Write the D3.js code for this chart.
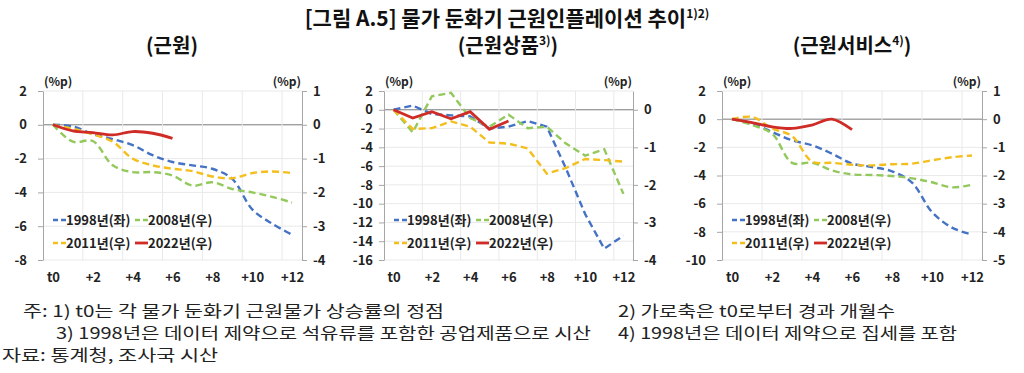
<!DOCTYPE html>
<html>
<head>
<meta charset="utf-8">
<script src="https://cdn.jsdelivr.net/npm/d3@7"></script>
<style>
  body { margin: 0; background: #fff; }
  svg { display: block; font-family: "Noto Sans CJK KR", "Noto Sans", sans-serif; }
</style>
</head>
<body>
<svg id="chart" width="1024" height="373"></svg>
<script>
// months after the peak of core inflation
const months = ["t0", "+1", "+2", "+3", "+4", "+5", "+6", "+7", "+8", "+9", "+10", "+11", "+12"];
const monthLabels = ["t0", "+2", "+4", "+6", "+8", "+10", "+12"];

const seriesNames = ["1998년(좌)", "2008년(우)", "2011년(우)", "2022년(우)"];
const seriesAxis = ["left", "right", "right", "right"];
const seriesColors = ["#4472C4", "#93C95C", "#F4BF1C", "#CF2B27"];

// (근원)
const core1998 = [0, -0.1, -0.55, -0.85, -1.2, -1.8, -2.2, -2.4, -2.6, -3.2, -5.0, -5.85, -6.5];
const core2008 = [0, -0.5, -0.48, -1.2, -1.4, -1.4, -1.5, -1.8, -1.7, -1.9, -2.0, -2.13, -2.3];
const core2011 = [0, -0.12, -0.28, -0.5, -1.0, -1.2, -1.3, -1.37, -1.53, -1.58, -1.43, -1.38, -1.43];
const core2022 = [0, -0.18, -0.23, -0.3, -0.2, -0.25, -0.4];

// (근원상품)
const goods1998 = [0, 0.45, -0.45, -0.6, -0.7, -2.0, -1.8, -1.2, -1.8, -6.25, -11.1, -14.8, -13.4];
const goods2008 = [0, -0.6, 0.36, 0.45, -0.22, -0.45, -0.13, -0.49, -0.45, -0.9, -1.22, -1.05, -2.24];
const goods2011 = [0, -0.51, -0.49, -0.31, -0.45, -0.87, -0.9, -1.03, -1.7, -1.55, -1.31, -1.34, -1.38];
const goods2022 = [0, -0.22, -0.05, -0.24, -0.05, -0.52, -0.3];

// (근원서비스)
const serv1998 = [0, -0.3, -0.9, -1.5, -1.85, -2.45, -3.15, -3.4, -3.7, -4.5, -6.6, -7.7, -8.2];
const serv2008 = [0, -0.21, -0.51, -1.55, -1.55, -1.82, -1.96, -1.98, -2.02, -2.1, -2.24, -2.42, -2.33];
const serv2011 = [0, 0.08, -0.33, -0.6, -1.5, -1.55, -1.62, -1.64, -1.6, -1.58, -1.46, -1.35, -1.29];
const serv2022 = [0, -0.12, -0.27, -0.33, -0.21, 0, -0.37];

const panelTitles = ["(근원)", "(근원상품", "(근원서비스"];
const panelNotes = ["", "3)", "4)"];
const leftDomains = [[-8, 2], [-16, 2], [-10, 2]];
const rightDomains = [[-4, 1], [-4, 0.5], [-5, 1]];
const leftTicks = [[2, 0, -2, -4, -6, -8], [2, 0, -2, -4, -6, -8, -10, -12, -14, -16], [2, 0, -2, -4, -6, -8, -10]];
const rightTicks = [[1, 0, -1, -2, -3, -4], [0, -1, -2, -3, -4], [1, 0, -1, -2, -3, -4, -5]];

const panelData = [
    [core1998, core2008, core2011, core2022],
    [goods1998, goods2008, goods2011, goods2022],
    [serv1998, serv2008, serv2011, serv2022]
];

const svg = d3.select("#chart");
svg.append("rect").attr("width", 1024).attr("height", 373).attr("fill", "#fff");

// title
const title = svg.append("text").attr("x", 507).attr("y", 26).attr("text-anchor", "middle")
    .attr("font-size", "21px").attr("font-weight", "bold").attr("fill", "#111");
title.append("tspan").text("[그림 A.5] 물가 둔화기 근원인플레이션 추이");
title.append("tspan").attr("font-size", "12px").attr("dy", -8).text("1)2)");

const frames = [
    {left: 43, right: 302, sub: 172, lgap: 16, smooth: true},
    {left: 384, right: 633, sub: 508, lgap: 11, smooth: false},
    {left: 722, right: 982, sub: 852, lgap: 16, smooth: true}
];
const plotTop = 91, plotBottom = 260;

frames.forEach((f, p) => {
    const g = svg.append("g");

    const st = g.append("text").attr("x", f.sub).attr("y", 53).attr("text-anchor", "middle")
        .attr("font-size", "20px").attr("font-weight", "bold").attr("fill", "#111");
    st.append("tspan").text(panelTitles[p]);
    if (panelNotes[p]) {
        st.append("tspan").attr("font-size", "12px").attr("dy", -8).text(panelNotes[p]);
        st.append("tspan").attr("dy", 8).text(")");
    }

    const x = d3.scalePoint().domain(months).range([f.left, f.right]).padding(0.5);
    const yL = d3.scaleLinear().domain(leftDomains[p]).range([plotBottom, plotTop]);
    const yR = d3.scaleLinear().domain(rightDomains[p]).range([plotBottom, plotTop]);
    const step = x.step();

    // gridlines
    g.selectAll(".hg").data(leftTicks[p]).enter().append("line")
        .attr("x1", f.left).attr("x2", f.right)
        .attr("y1", d => yL(d)).attr("y2", d => yL(d))
        .attr("stroke", d => d === 0 ? "#7a7a7a" : "#e9e9e9").attr("stroke-width", 1);
    g.selectAll(".vg").data(d3.range(2, months.length, 2)).enter().append("line")
        .attr("x1", d => f.left + d * step).attr("x2", d => f.left + d * step)
        .attr("y1", plotTop).attr("y2", plotBottom)
        .attr("stroke", "#e9e9e9").attr("stroke-width", 1);

    // axes
    const ax1 = g.append("g").attr("transform", `translate(${f.left},0)`)
        .call(d3.axisLeft(yL).tickValues(leftTicks[p]).tickSize(5).tickSizeOuter(0)
            .tickPadding(f.lgap - 5).tickFormat(d => String(d)));
    const ax2 = g.append("g").attr("transform", `translate(${f.right},0)`)
        .call(d3.axisRight(yR).tickValues(rightTicks[p]).tickSize(5).tickSizeOuter(0)
            .tickPadding(6).tickFormat(d => String(d)));
    [ax1, ax2].forEach(a => {
        a.select(".domain").attr("stroke", "#a6a6a6");
        a.selectAll(".tick line").attr("stroke", "#a6a6a6");
        a.selectAll("text").attr("font-size", "13px").attr("font-weight", "bold").attr("fill", "#222")
            .attr("font-family", "\"Noto Sans CJK KR\", sans-serif");
    });
    const ax3 = g.append("g").attr("transform", `translate(0,${plotBottom})`)
        .call(d3.axisBottom(x).tickValues(monthLabels).tickSize(0).tickPadding(13));
    ax3.select(".domain").remove();
    ax3.selectAll("text").attr("font-size", "13px").attr("font-weight", "bold").attr("fill", "#222")
        .attr("font-family", "\"Noto Sans CJK KR\", sans-serif");

    g.append("text").attr("x", f.left + 1).attr("y", 86).attr("font-size", "12px").attr("font-weight", "bold")
        .attr("fill", "#222").text("(%p)");
    g.append("text").attr("x", f.right - 1).attr("y", 86).attr("text-anchor", "end").attr("font-size", "12px")
        .attr("font-weight", "bold").attr("fill", "#222").text("(%p)");

    // lines
    panelData[p].forEach((vals, s) => {
        const yS = seriesAxis[s] === "left" ? yL : yR;
        const line = d3.line().x((d, i) => x(months[i])).y(d => yS(d))
            .curve(f.smooth ? d3.curveCatmullRom.alpha(0.5) : d3.curveLinear);
        g.append("path").datum(vals).attr("fill", "none").attr("stroke", seriesColors[s])
            .attr("stroke-width", s === 3 ? 2.8 : 2.4)
            .attr("stroke-dasharray", s === 3 ? null : "7,4")
            .attr("d", line);
    });

    // legend
    seriesNames.forEach((name, s) => {
        const lx = f.left + 10 + (s % 2) * 82;
        const ly = 220 + Math.floor(s / 2) * 23;
        g.append("line").attr("x1", lx).attr("x2", lx + 13).attr("y1", ly).attr("y2", ly)
            .attr("stroke", seriesColors[s]).attr("stroke-width", s === 3 ? 2.8 : 2.4)
            .attr("stroke-dasharray", s === 3 ? null : "5,3");
        g.append("text").attr("x", lx + 13).attr("y", ly + 5).attr("font-size", "13px").attr("font-weight", "600")
            .attr("fill", "#222").text(name);
    });
});

// notes
const notes = [
    {x: 23, y: 317, w: 421, t: "주: 1) t0는 각 물가 둔화기 근원물가 상승률의 정점"},
    {x: 618, y: 317, w: 277, t: "2) 가로축은 t0로부터 경과 개월수"},
    {x: 56, y: 339, w: 535, t: "3) 1998년은 데이터 제약으로 석유류를 포함한 공업제품으로 시산"},
    {x: 618, y: 339, w: 339, t: "4) 1998년은 데이터 제약으로 집세를 포함"},
    {x: 2, y: 361, w: 216, t: "자료: 통계청, 조사국 시산"}
];
svg.selectAll(".note").data(notes).enter().append("text")
    .attr("x", d => d.x).attr("y", d => d.y).attr("font-size", "16px").attr("fill", "#222")
    .attr("textLength", d => d.w).attr("lengthAdjust", "spacingAndGlyphs")
    .text(d => d.t);
</script>
</body>
</html>
